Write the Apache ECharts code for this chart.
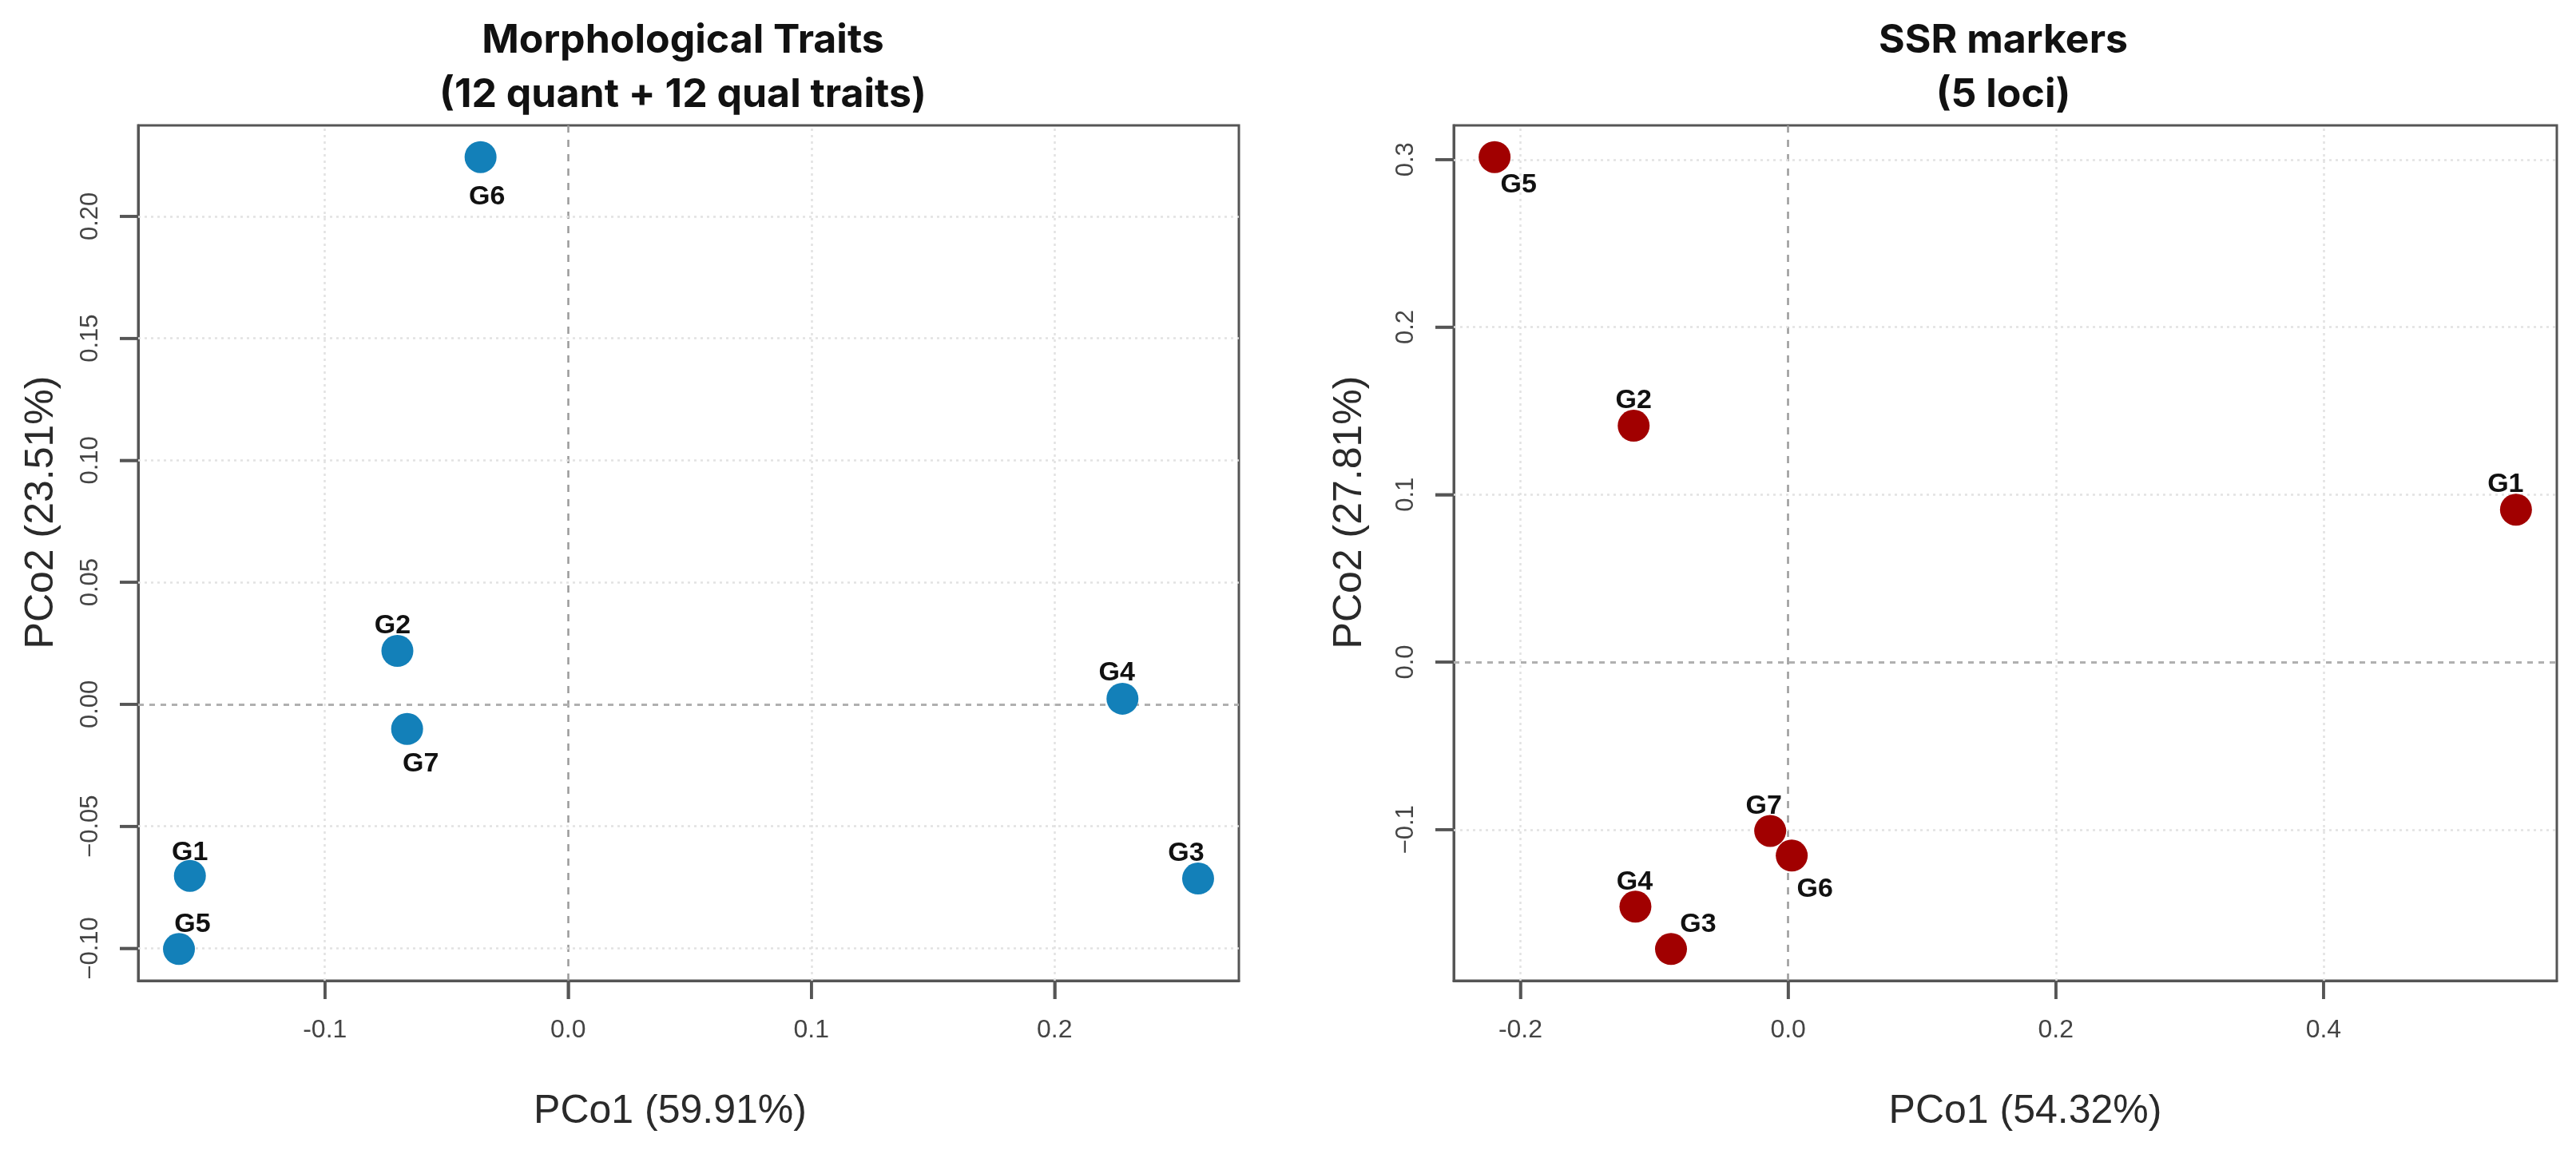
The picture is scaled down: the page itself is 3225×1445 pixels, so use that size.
<!DOCTYPE html>
<html>
<head>
<meta charset="utf-8">
<script src="https://cdn.jsdelivr.net/npm/echarts@6/dist/echarts.min.js"></script>
<style>
html,body{margin:0;padding:0;background:#fff;}
#chart{width:3225px;height:1445px;}
</style>
</head>
<body>
<div id="chart"></div>
<script>
// ---- Data ----
const genotypes = ['G1','G2','G3','G4','G5','G6','G7'];

// Morphological traits PCoA
const morphPCo1 = [-0.1555, -0.0702, 0.2590, 0.2279, -0.1600, -0.0360, -0.0662];
const morphPCo2 = [-0.0703, 0.0219, -0.0714, 0.0023, -0.1003, 0.2243, -0.0101];

// SSR markers PCoA
const ssrPCo1 = [0.5438, -0.1154, -0.0875, -0.1141, -0.2193, 0.0027, -0.0134];
const ssrPCo2 = [0.0910, 0.1411, -0.1713, -0.1460, 0.3015, -0.1155, -0.1008];

// Tick values and labels
const morphXTicks = [-0.1, 0.0, 0.1, 0.2];
const morphXTickLabels = ['-0.1', '0.0', '0.1', '0.2'];
const morphYTicks = [-0.10, -0.05, 0.00, 0.05, 0.10, 0.15, 0.20];
const morphYTickLabels = ['\u22120.10', '\u22120.05', '0.00', '0.05', '0.10', '0.15', '0.20'];
const ssrXTicks = [-0.2, 0.0, 0.2, 0.4];
const ssrXTickLabels = ['-0.2', '0.0', '0.2', '0.4'];
const ssrYTicks = [-0.1, 0.0, 0.1, 0.2, 0.3];
const ssrYTickLabels = ['\u22120.1', '0.0', '0.1', '0.2', '0.3'];

// Titles
const morphTitle = 'Morphological Traits\n(12 quant + 12 qual traits)';
const ssrTitle = 'SSR markers\n(5 loci)';
const morphXName = 'PCo1 (59.91%)';
const morphYName = 'PCo2 (23.51%)';
const ssrXName = 'PCo1 (54.32%)';
const ssrYName = 'PCo2 (27.81%)';

// ---- Styling (label placement offsets, px) ----
const morphLabelOffsets = [[0,-29],[-6,-31],[-15,-31],[-7,-32],[17,-31],[8,50],[17,44]];
const ssrLabelOffsets = [[-13,-32],[0,-31],[34,-31],[-1,-31],[30,35],[29,42],[-8,-31]];

const FONT = '"Liberation Sans", Arial, sans-serif';
const AXIS_COLOR = '#555555';
const TICK_LEN = 23;
const TICK_W = 3.5;

function padRange(vals) {
  const mn = Math.min(...vals), mx = Math.max(...vals);
  const r = mx - mn;
  return [mn - 0.04 * r, mx + 0.04 * r];
}
function labelFor(ticks, labels) {
  return function (v) {
    for (let i = 0; i < ticks.length; i++) {
      if (Math.abs(ticks[i] - v) < 1e-9) return labels[i];
    }
    return '';
  };
}
function makeX(gi, vals, ticks, labels, name, namePad) {
  const r = padRange(vals);
  return {
    gridIndex: gi, type: 'value', min: r[0], max: r[1], position: 'bottom',
    axisLine: {show: true, onZero: false, lineStyle: {color: AXIS_COLOR, width: 3}},
    splitLine: {show: false},
    axisTick: {show: true, inside: false, customValues: ticks, length: TICK_LEN,
      lineStyle: {color: AXIS_COLOR, width: TICK_W}},
    axisLabel: {customValues: ticks, formatter: labelFor(ticks, labels), margin: 46,
      fontSize: 32, color: '#444', fontFamily: FONT},
    name: name, nameLocation: 'middle', nameGap: 139,
    nameTextStyle: {fontSize: 50, color: '#2a2a2a', fontFamily: FONT, padding: namePad}
  };
}
function makeY(gi, vals, ticks, labels, name, gap) {
  const r = padRange(vals);
  return {
    gridIndex: gi, type: 'value', min: r[0], max: r[1], position: 'left',
    axisLine: {show: true, onZero: false, lineStyle: {color: AXIS_COLOR, width: 3}},
    splitLine: {show: false},
    axisTick: {show: true, inside: false, customValues: ticks, length: TICK_LEN,
      lineStyle: {color: AXIS_COLOR, width: TICK_W}},
    axisLabel: {customValues: ticks, formatter: labelFor(ticks, labels), margin: 44, rotate: 90,
      fontSize: 31, color: '#444', fontFamily: FONT},
    name: name, nameLocation: 'middle', nameGap: gap,
    nameTextStyle: {fontSize: 50, color: '#2a2a2a', fontFamily: FONT, padding: [0, 0, 0, 102]}
  };
}
function gridLines(xTicks, yTicks, gi) {
  const data = [];
  xTicks.forEach(v => {
    if (v === 0) data.push({xAxis: v, lineStyle: {type: [9, 9], color: '#9a9a9a', width: 2.5}});
    else data.push({xAxis: v, lineStyle: {type: [3, 5], color: '#e2e2e2', width: 2.5}});
  });
  yTicks.forEach(v => {
    if (v === 0) data.push({yAxis: v, lineStyle: {type: [7, 7], color: '#b0b0b0', width: 3}});
    else data.push({yAxis: v, lineStyle: {type: [3, 5], color: '#e2e2e2', width: 2.5}});
  });
  return {
    type: 'line', xAxisIndex: gi, yAxisIndex: gi, data: [], z: 1, silent: true,
    markLine: {silent: true, symbol: 'none', label: {show: false}, animation: false, data: data}
  };
}
// Outward tick marks: thin rect symbols anchored on the box edges via the axes' scales
function xTickSeries(gi, xVals, yVals, xTicks) {
  const yr = padRange(yVals);
  return {
    type: 'scatter', xAxisIndex: gi, yAxisIndex: gi, z: 10, silent: true, clip: false,
    symbol: 'rect', symbolSize: [TICK_W, TICK_LEN], symbolOffset: [0, TICK_LEN / 2],
    itemStyle: {color: AXIS_COLOR, opacity: 1},
    emphasis: {disabled: true}, label: {show: false},
    data: xTicks.map(v => [v, yr[0]])
  };
}
function yTickSeries(gi, xVals, yVals, yTicks) {
  const xr = padRange(xVals);
  return {
    type: 'scatter', xAxisIndex: gi, yAxisIndex: gi, z: 10, silent: true, clip: false,
    symbol: 'rect', symbolSize: [TICK_LEN, TICK_W], symbolOffset: [-TICK_LEN / 2, 0],
    itemStyle: {color: AXIS_COLOR, opacity: 1},
    emphasis: {disabled: true}, label: {show: false},
    data: yTicks.map(v => [xr[0], v])
  };
}
function pointSeries(gi, xs, ys, offsets, color) {
  return {
    type: 'scatter', xAxisIndex: gi, yAxisIndex: gi, z: 5, symbolSize: 40,
    itemStyle: {color: color, opacity: 1},
    label: {show: true, position: 'inside', formatter: p => p.name,
      fontSize: 34, fontWeight: 'bold', color: '#111', fontFamily: FONT},
    emphasis: {disabled: true},
    data: genotypes.map((g, i) => ({name: g, value: [xs[i], ys[i]], label: {offset: offsets[i]}}))
  };
}

const chart = echarts.init(document.getElementById('chart'), null, {renderer: 'canvas'});
chart.setOption({
  animation: false,
  backgroundColor: '#ffffff',
  title: [
    {text: morphTitle, left: 850, top: 12, textAlign: 'center',
      textStyle: {fontSize: 50, fontWeight: 'bold', color: '#111', fontFamily: 'Inter, sans-serif', lineHeight: 68}},
    {text: ssrTitle, left: 2503, top: 12, textAlign: 'center',
      textStyle: {fontSize: 50, fontWeight: 'bold', color: '#111', fontFamily: 'Inter, sans-serif', lineHeight: 68}}
  ],
  grid: [
    {left: 173, right: 1674, top: 157, bottom: 217, show: true, borderColor: AXIS_COLOR, borderWidth: 3, backgroundColor: 'transparent'},
    {left: 1820, right: 24, top: 157, bottom: 217, show: true, borderColor: AXIS_COLOR, borderWidth: 3, backgroundColor: 'transparent'}
  ],
  xAxis: [
    makeX(0, morphPCo1, morphXTicks, morphXTickLabels, morphXName, [0, 46, 0, 0]),
    makeX(1, ssrPCo1, ssrXTicks, ssrXTickLabels, ssrXName, [0, 0, 0, 50])
  ],
  yAxis: [
    makeY(0, morphPCo2, morphYTicks, morphYTickLabels, morphYName, 96),
    makeY(1, ssrPCo2, ssrYTicks, ssrYTickLabels, ssrYName, 105)
  ],
  series: [
    gridLines(morphXTicks, morphYTicks, 0),
    gridLines(ssrXTicks, ssrYTicks, 1),
    xTickSeries(0, morphPCo1, morphPCo2, morphXTicks),
    yTickSeries(0, morphPCo1, morphPCo2, morphYTicks),
    xTickSeries(1, ssrPCo1, ssrPCo2, ssrXTicks),
    yTickSeries(1, ssrPCo1, ssrPCo2, ssrYTicks),
    pointSeries(0, morphPCo1, morphPCo2, morphLabelOffsets, '#1380b9'),
    pointSeries(1, ssrPCo1, ssrPCo2, ssrLabelOffsets, '#a10000')
  ]
});
</script>
</body>
</html>
